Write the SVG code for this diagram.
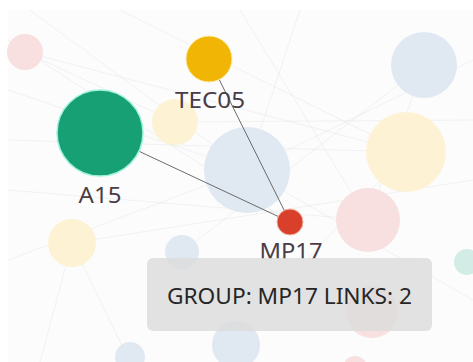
<svg xmlns="http://www.w3.org/2000/svg" width="473" height="362" viewBox="0 0 473 362">
<style>
.lbl{font-family:"Noto Sans","Open Sans",sans-serif;font-size:21px;fill:#4a3d47;text-anchor:middle;}
.bg line{stroke:#d4d4d4;stroke-width:1;opacity:0.25;}
.fp{fill:#f7e0df;}
.fb{fill:#e0e8f2;}
.fy{fill:#fdf2d3;}
.ft{fill:#d3ece5;}
.edge{stroke:#6b6b6b;stroke-width:1;}
</style>
<rect x="0" y="0" width="473" height="362" fill="#ffffff"/>
<g id="canvas">
<rect x="8" y="10" width="465" height="352" fill="#fcfcfc"/>
<g class="bg">
<line x1="8" y1="40" x2="290" y2="222"/>
<line x1="8" y1="90" x2="247" y2="170"/>
<line x1="8" y1="140" x2="406" y2="152"/>
<line x1="8" y1="190" x2="368" y2="220"/>
<line x1="8" y1="260" x2="247" y2="170"/>
<line x1="30" y1="10" x2="247" y2="170"/>
<line x1="120" y1="10" x2="406" y2="152"/>
<line x1="300" y1="10" x2="247" y2="170"/>
<line x1="473" y1="60" x2="247" y2="170"/>
<line x1="473" y1="120" x2="175" y2="122"/>
<line x1="473" y1="180" x2="72" y2="243"/>
<line x1="473" y1="300" x2="247" y2="170"/>
<line x1="72" y1="243" x2="130" y2="362"/>
<line x1="72" y1="243" x2="40" y2="362"/>
<line x1="182" y1="252" x2="424" y2="65"/>
<line x1="368" y1="220" x2="424" y2="65"/>
<line x1="406" y1="152" x2="230" y2="343"/>
<line x1="25" y1="52" x2="406" y2="152"/>
<line x1="25" y1="52" x2="175" y2="122"/>
<line x1="240" y1="10" x2="368" y2="220"/>
</g>
</g>
<g id="bg-nodes">
<circle class="fp" cx="25" cy="52" r="18"/>
<circle class="fy" cx="175" cy="122" r="23"/>
<circle class="fb" cx="247" cy="170" r="43"/>
<circle class="fb" cx="424" cy="65" r="33"/>
<circle class="fy" cx="406" cy="152" r="40"/>
<circle class="fp" cx="368" cy="220" r="32"/>
<circle class="ft" cx="467" cy="262" r="13"/>
<circle class="fy" cx="72" cy="243" r="24"/>
<circle class="fb" cx="182" cy="252" r="17"/>
<circle class="fb" cx="130" cy="357" r="15"/>
<circle class="fb" cx="236" cy="345" r="24"/>
<circle class="fp" cx="372" cy="312" r="26"/>
<circle class="fp" cx="355" cy="368" r="12"/>
</g>
<g id="connectors">
<line class="edge" x1="100" y1="133" x2="290" y2="222"/>
<line class="edge" x1="209" y1="59" x2="290" y2="222"/>
</g>
<g id="node-TEC05">
<circle cx="209" cy="59" r="23" fill="#f0b505" stroke="#fde9a6" stroke-width="1"/>
<text class="lbl" x="210" y="108" textLength="70" lengthAdjust="spacingAndGlyphs">TEC05</text>
</g>
<g id="node-A15">
<circle cx="100" cy="133" r="43" fill="#17a073" stroke="#9ff2de" stroke-width="1.5"/>
<text class="lbl" x="100" y="203" textLength="43" lengthAdjust="spacingAndGlyphs">A15</text>
</g>
<g id="node-MP17">
<circle cx="290" cy="222" r="13" fill="#d9402b" stroke="#f3b3a5" stroke-width="1"/>
<text class="lbl" x="291" y="259" textLength="63" lengthAdjust="spacingAndGlyphs">MP17</text>
</g>
<g id="tooltip">
<rect x="147" y="258" width="285" height="73" rx="6" fill="#dcdcdc" opacity="0.82"/>
<text class="lbl" x="289.5" y="304" style="fill:#262626" textLength="245" lengthAdjust="spacingAndGlyphs">GROUP: MP17 LINKS: 2</text>
</g>
</svg>
